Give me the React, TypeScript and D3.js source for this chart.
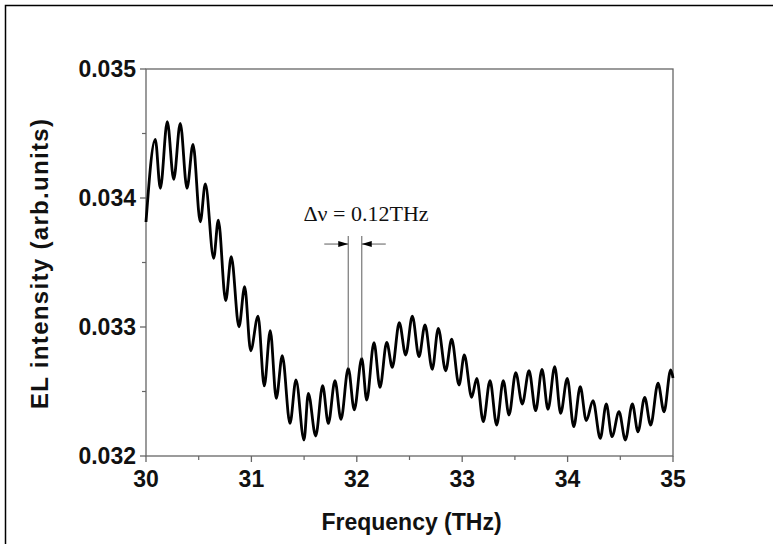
import React from "react";
import * as d3 from "d3";

// Local extrema of the EL spectrum (THz, arb.units)
const freq = [
  30.0, 30.088, 30.136, 30.202, 30.263, 30.325, 30.389, 30.446, 30.515, 30.563,
  30.642, 30.686, 30.756, 30.809, 30.882, 30.936, 30.993, 31.063, 31.122, 31.179,
  31.236, 31.293, 31.366, 31.423, 31.499, 31.54, 31.61, 31.676, 31.73, 31.793,
  31.85, 31.919, 31.976, 32.047, 32.094, 32.163, 32.22, 32.284, 32.337, 32.403,
  32.464, 32.527, 32.59, 32.647, 32.716, 32.773, 32.843, 32.9, 32.97, 33.02,
  33.09, 33.138, 33.2, 33.264, 33.327, 33.39, 33.444, 33.508, 33.57, 33.634,
  33.697, 33.757, 33.814, 33.878, 33.934, 33.997, 34.058, 34.12, 34.177, 34.241,
  34.31, 34.367, 34.421, 34.488, 34.548, 34.614, 34.668, 34.731, 34.788, 34.858,
  34.915, 34.978, 35.0,
];
const intensity = [
  0.033814, 0.034455, 0.034075, 0.034591, 0.034145, 0.034579, 0.034075, 0.034416, 0.033816, 0.034109,
  0.033533, 0.033829, 0.033204, 0.033545, 0.033002, 0.033312, 0.032816, 0.033085, 0.032543, 0.032971,
  0.032447, 0.032778, 0.032253, 0.032589, 0.032124, 0.032486, 0.032155, 0.032545, 0.032253, 0.032584,
  0.032284, 0.03268, 0.032357, 0.032757, 0.032434, 0.032878, 0.032533, 0.032881, 0.032688, 0.033033,
  0.032783, 0.033085, 0.03277, 0.033016, 0.032672, 0.03299, 0.032661, 0.032905, 0.03255, 0.032783,
  0.032455, 0.032602, 0.032266, 0.032584, 0.03224, 0.032584, 0.032318, 0.032646, 0.032403, 0.032661,
  0.032351, 0.032672, 0.032362, 0.032692, 0.032331, 0.032602, 0.032227, 0.032537, 0.032274, 0.032429,
  0.032137, 0.032403, 0.03215, 0.032343, 0.032124, 0.032403, 0.032188, 0.032455, 0.03224, 0.032564,
  0.032343, 0.032667, 0.032605,
];

const xTicks = [30, 31, 32, 33, 34, 35];
const xMinorTicks = [30.5, 31.5, 32.5, 33.5, 34.5];
const yTicks = [0.032, 0.033, 0.034, 0.035];
const yMinorTicks = [0.0325, 0.0335, 0.0345];

// annotation: two neighbouring fringe peaks
const markFreqs = [31.919, 32.047];
const markPeaks = [0.03268, 0.032757];
const markTop = 0.033705;
const arrowLevel = 0.033643;
const annotationText = "\u0394\u03bd = 0.12THz";

const W = 773;
const H = 544;
const left = 146;
const right = 673;
const top = 69;
const bottom = 456;

export default function App() {
  const x = d3.scaleLinear().domain([30, 35]).range([left, right]);
  const y = d3.scaleLinear().domain([0.032, 0.035]).range([bottom, top]);
  const pts: [number, number][] = freq.map((f, i) => [f, intensity[i]]);
  const line = d3
    .line<[number, number]>()
    .x((d) => x(d[0]))
    .y((d) => y(d[1]))
    .curve(d3.curveMonotoneX);

  const axisColor = "#666";
  const tickFont = "'Liberation Sans', Arial, sans-serif";
  const ya = y(arrowLevel);
  const xl = x(markFreqs[0]);
  const xr = x(markFreqs[1]);

  return (
    <svg
      width={W}
      height={H}
      style={{ position: "absolute", left: 0, top: 0, background: "#fff" }}
    >
      <rect x={0} y={0} width={W} height={H} fill="#fff" />
      <rect x={5.5} y={5.5} width={W + 20} height={H + 20} fill="none" stroke="#000" strokeWidth={1.5} />

      {/* frame */}
      <rect x={left} y={top} width={right - left} height={bottom - top} fill="none" stroke={axisColor} strokeWidth={1.3} />

      {/* x ticks */}
      {xTicks.map((t) => (
        <g key={"xt" + t}>
          <line x1={x(t)} x2={x(t)} y1={bottom} y2={bottom + 6} stroke={axisColor} strokeWidth={1.3} />
          <text x={x(t)} y={bottom + 31} textAnchor="middle" fontFamily={tickFont} fontWeight="bold" fontSize={23} fill="#111">
            {t}
          </text>
        </g>
      ))}
      {xMinorTicks.map((t) => (
        <line key={"xm" + t} x1={x(t)} x2={x(t)} y1={bottom} y2={bottom + 4} stroke={axisColor} strokeWidth={1.2} />
      ))}

      {/* y ticks */}
      {yTicks.map((t) => (
        <g key={"yt" + t}>
          <line x1={left - 6} x2={left} y1={y(t)} y2={y(t)} stroke={axisColor} strokeWidth={1.3} />
          <text x={left - 10} y={y(t) + 8} textAnchor="end" fontFamily={tickFont} fontWeight="bold" fontSize={23} fill="#111">
            {t.toFixed(3)}
          </text>
        </g>
      ))}
      {yMinorTicks.map((t) => (
        <line key={"ym" + t} x1={left - 4} x2={left} y1={y(t)} y2={y(t)} stroke={axisColor} strokeWidth={1.2} />
      ))}

      {/* axis titles */}
      <text x={(left + right) / 2 + 2} y={530} textAnchor="middle" fontFamily={tickFont} fontWeight="bold" fontSize={23} fill="#111">
        Frequency (THz)
      </text>
      <text
        transform={`translate(48, 264) rotate(-90)`}
        textAnchor="middle"
        fontFamily={tickFont}
        fontWeight="bold"
        fontSize={24}
        textLength={290}
        lengthAdjust="spacing"
        fill="#111"
      >
        EL intensity (arb.units)
      </text>

      {/* spectrum */}
      <path d={line(pts) || ""} fill="none" stroke="#000" strokeWidth={2.8} strokeLinejoin="round" />

      {/* annotation */}
      {markFreqs.map((f, i) => (
        <line key={"mk" + i} x1={x(f)} x2={x(f)} y1={y(markTop)} y2={y(markPeaks[i])} stroke="#777" strokeWidth={1.2} />
      ))}
      <line x1={xl - 24} x2={xl} y1={ya} y2={ya} stroke="#777" strokeWidth={1.2} />
      <line x1={xr} x2={xr + 24} y1={ya} y2={ya} stroke="#777" strokeWidth={1.2} />
      <path d={`M${xl},${ya} L${xl - 10},${ya - 3} L${xl - 10},${ya + 3} Z`} fill="#000" />
      <path d={`M${xr},${ya} L${xr + 10},${ya - 3} L${xr + 10},${ya + 3} Z`} fill="#000" />
      <text x={366} y={221} textAnchor="middle" fontFamily="'Liberation Serif', 'Times New Roman', serif" fontSize={22} fill="#111">
        {annotationText}
      </text>
    </svg>
  );
}
